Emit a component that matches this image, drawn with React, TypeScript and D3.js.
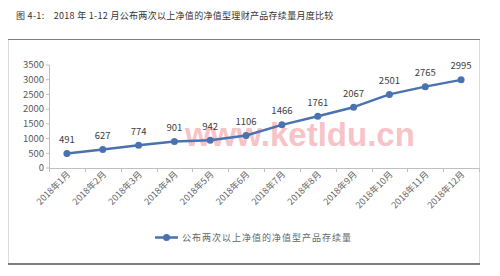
import React from "react";
import * as d3 from "d3";

const months = ["2018年1月","2018年2月","2018年3月","2018年4月","2018年5月","2018年6月","2018年7月","2018年8月","2018年9月","2018年10月","2018年11月","2018年12月"];
const values = [491, 627, 774, 901, 942, 1106, 1466, 1761, 2067, 2501, 2765, 2995];
const yTicks = [0, 500, 1000, 1500, 2000, 2500, 3000, 3500];
const title = "图 4-1:    2018 年 1-12 月公布两次以上净值的净值型理财产品存续量月度比较";
const seriesName = "公布两次以上净值的净值型产品存续量";
const watermark = "www.ketldu.cn";

const FONT = "'Noto Sans CJK SC', 'Liberation Sans', sans-serif";
const LINE = "#4A72AE";

export default function App() {
  const x = d3.scaleBand<string>().domain(months).range([49, 479]);
  const y = d3.scaleLinear().domain([0, 3500]).range([168, 65]);
  const cx = (m: string) => (x(m) ?? 0) + x.bandwidth() / 2;
  const line = d3.line<number>().x((_, i) => cx(months[i])).y((v) => y(v));
  const tickXs = months.map((m) => x(m) ?? 0).concat([479]);

  return (
    <svg width={500} height={276} style={{ position: "absolute", left: 0, top: 0, background: "#fff" }} fontFamily={FONT}>
      <rect x={0} y={0} width={500} height={276} fill="#fff" />
      <text x={16} y={19} fontSize={9} fill="#333" letterSpacing={0.3} style={{ whiteSpace: "pre" }}>{title}</text>
      {/* frame */}
      <rect x={8.5} y={39.5} width={471} height={224.5} fill="#fff" stroke="#dcdcdc" />
      <line x1={8} x2={480} y1={39.5} y2={39.5} stroke="#7f7f7f" strokeWidth={1.2} />
      <line x1={8} x2={480} y1={264} y2={264} stroke="#595959" strokeWidth={1.5} />
      {/* watermark */}
      <text x={185} y={146} fontSize={33} fontWeight="bold" fill="#F08890" opacity={0.5} fontFamily="'Liberation Sans', Arial, sans-serif">{watermark}</text>
      {/* y axis */}
      <line x1={49.5} x2={49.5} y1={y(3500)} y2={y(0)} stroke="#bfbfbf" />
      {yTicks.map((t) => (
        <g key={t}>
          <line x1={46} x2={49.5} y1={y(t)} y2={y(t)} stroke="#bfbfbf" />
          <text x={44} y={y(t)} dy="0.35em" textAnchor="end" fontSize={9.5} fill="#595959">{t}</text>
        </g>
      ))}
      {/* x axis */}
      <line x1={49} x2={479} y1={168.5} y2={168.5} stroke="#bfbfbf" />
      {tickXs.map((tx, i) => (
        <line key={i} x1={Math.round(tx) + 0.5} x2={Math.round(tx) + 0.5} y1={168.5} y2={172} stroke="#bfbfbf" />
      ))}
      {months.map((m) => (
        <text key={m} transform={`translate(${cx(m) + 4},${175}) rotate(-45)`} textAnchor="end" fontSize={9} fill="#666">{m}</text>
      ))}
      {/* series */}
      <path d={line(values) ?? ""} fill="none" stroke={LINE} strokeWidth={2.5} strokeLinejoin="round" />
      {values.map((v, i) => (
        <g key={i}>
          <circle cx={cx(months[i])} cy={y(v)} r={3.5} fill={LINE} />
          <text x={cx(months[i])} y={y(v) - 10.5} textAnchor="middle" fontSize={9.5} fill="#404040">{v}</text>
        </g>
      ))}
      {/* legend */}
      <line x1={155} x2={178} y1={237.5} y2={237.5} stroke={LINE} strokeWidth={2.5} />
      <circle cx={166.5} cy={237.5} r={3.5} fill={LINE} />
      <text x={182} y={241} fontSize={9} letterSpacing={1} fill="#666">{seriesName}</text>
    </svg>
  );
}
